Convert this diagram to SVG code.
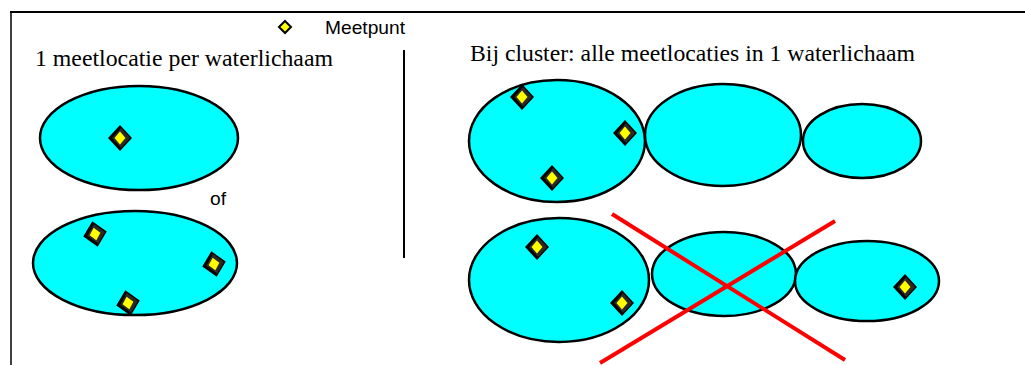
<svg xmlns="http://www.w3.org/2000/svg" xmlns:xlink="http://www.w3.org/1999/xlink" width="1025" height="365" viewBox="0 0 1025 365">
<style>
.lake{fill:#00ffff;stroke:#000;stroke-width:2.5}
.title{font-family:"Liberation Serif","Times New Roman",serif;font-size:23.5px;fill:#000}
.sans{font-family:"Liberation Sans",Arial,sans-serif;fill:#000}
.cross{stroke:#ff0000;stroke-width:4;stroke-linecap:butt}
.frame{stroke:#000;fill:none}
</style>
<defs>
<g id="pt">
<polygon points="0,-13 12,0 0,13 -12,0" fill="#000"/>
<polygon points="1,-10 10,0 1,10 -8,0" fill="#2a2a2a"/>
<polygon points="0,-6.5 5.5,0 0,6.5 -5.5,0" fill="#ffff00"/>
</g>
</defs>
<rect width="1025" height="365" fill="#fff"/>
<g id="frame">
<line class="frame" x1="10" y1="12" x2="1025" y2="12" stroke-width="2"/>
<line class="frame" x1="11" y1="12" x2="11" y2="365" stroke-width="1.5"/>
<line class="frame" x1="404" y1="50" x2="404" y2="258" stroke-width="2" stroke="#222"/>
</g>
<g id="legend">
<polygon points="285,21 291,27 285,33 279,27" fill="#ffff00" stroke="#000" stroke-width="2"/>
<text class="sans" x="325" y="34" font-size="19" textLength="80" lengthAdjust="spacingAndGlyphs">Meetpunt</text>
</g>
<g id="titles">
<text class="title" x="35" y="66" textLength="298" lengthAdjust="spacingAndGlyphs">1 meetlocatie per waterlichaam</text>
<text class="title" x="470" y="61" textLength="445" lengthAdjust="spacingAndGlyphs">Bij cluster: alle meetlocaties in 1 waterlichaam</text>
<text class="sans" x="210" y="205" font-size="18" textLength="16" lengthAdjust="spacingAndGlyphs">of</text>
</g>
<g id="left-top">
<ellipse class="lake" cx="139" cy="138" rx="99" ry="52"/>
<use xlink:href="#pt" href="#pt" transform="translate(120,138)"/>
</g>
<g id="left-bottom">
<ellipse class="lake" cx="135" cy="263" rx="102" ry="52"/>
<use xlink:href="#pt" href="#pt" transform="translate(95,234) rotate(-12)"/>
<use xlink:href="#pt" href="#pt" transform="translate(214,264) rotate(-12)"/>
<use xlink:href="#pt" href="#pt" transform="translate(128,303) rotate(-12)"/>
</g>
<g id="right-top-1">
<ellipse class="lake" cx="557" cy="141" rx="88" ry="61"/>
<use xlink:href="#pt" href="#pt" transform="translate(522,97)"/>
<use xlink:href="#pt" href="#pt" transform="translate(625,133)"/>
<use xlink:href="#pt" href="#pt" transform="translate(552,178)"/>
</g>
<g id="right-top-2">
<ellipse class="lake" cx="723" cy="135" rx="78" ry="51"/>
</g>
<g id="right-top-3">
<ellipse class="lake" cx="862" cy="141" rx="59" ry="37"/>
</g>
<g id="right-bottom-1">
<ellipse class="lake" cx="559" cy="280" rx="90" ry="62"/>
<use xlink:href="#pt" href="#pt" transform="translate(537,247)"/>
<use xlink:href="#pt" href="#pt" transform="translate(622,303)"/>
</g>
<g id="right-bottom-2">
<ellipse class="lake" cx="724" cy="274" rx="72" ry="42"/>
</g>
<g id="right-bottom-3">
<ellipse class="lake" cx="867" cy="281" rx="72" ry="40"/>
<use xlink:href="#pt" href="#pt" transform="translate(905,287)"/>
</g>
<g id="connectors">
<line class="cross" x1="612" y1="214" x2="845" y2="360"/>
<line class="cross" x1="835" y1="221" x2="600" y2="363"/>
</g>
</svg>
